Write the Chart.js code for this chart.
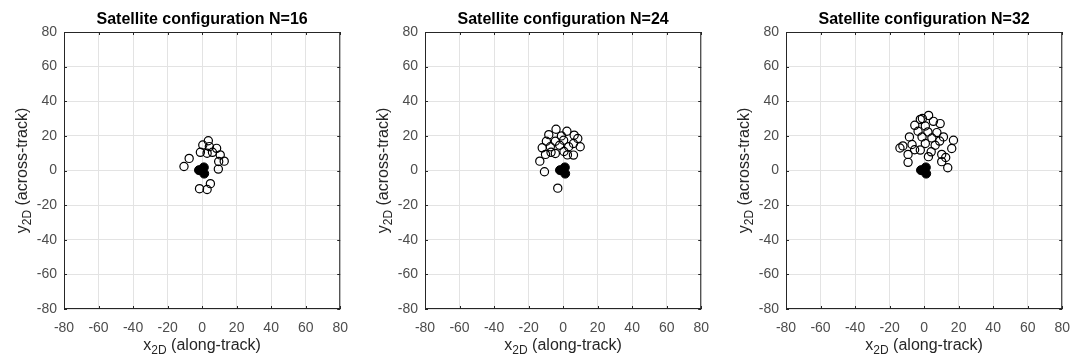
<!DOCTYPE html>
<html>
<head>
<meta charset="utf-8">
<script src="https://cdn.jsdelivr.net/npm/chart.js@4.4.1/dist/chart.umd.min.js"></script>
<style>
  body { margin: 0; background: #fff; }
  .wrap { position: absolute; top: 0; width: 359px; height: 361px; }
</style>
</head>
<body>
<div class="wrap" style="left:0px"><canvas id="c16"></canvas></div>
<div class="wrap" style="left:361px"><canvas id="c24"></canvas></div>
<div class="wrap" style="left:722px"><canvas id="c32"></canvas></div>
<script>
// axis ticks shared by all three panels
const axisTicks = [-80, -60, -40, -20, 0, 20, 40, 60, 80]

// reference satellites (filled) - same in every panel
const refX = [-1.8, 1.0, 1.2]
const refY = [0.2, 1.8, -1.8]

// N=16
const x16 = [3.6, 0.4, 4.2, 8.4, -1.0, 2.9, 6.0, 10.5, 12.8, 9.6, 9.4, -7.5, -10.5, -1.5, 2.9, 4.8]
const y16 = [17.2, 14.7, 13.8, 12.8, 10.5, 10.0, 10.5, 9.0, 5.4, 5.2, 0.8, 7.0, 2.3, -10.5, -11.0, -7.6]

// N=24
const x24 = [-4.1, 2.2, -8.3, 6.4, -1.0, -9.7, -4.5, 0.3, 6.0, 9.9, -12.1, -7.4, -2.0, 3.2, -10.2, -4.5, 0.5, 6.0, -13.5, -10.8, -3.1, 2.5, -7.0, 8.5]
const y24 = [23.8, 22.7, 20.7, 20.4, 20.0, 16.9, 16.9, 17.5, 15.6, 13.7, 13.1, 13.7, 14.6, 13.7, 9.3, 9.8, 11.0, 8.9, 5.4, -0.7, -10.2, 9.0, 10.5, 18.5]

// N=32
const x32 = [2.6, -2.2, 5.4, -5.4, 0.7, 9.3, -3.5, 2.2, 7.4, -8.5, -1.2, 4.5, 11.2, -12.3, -7.0, 0.7, 6.4, -9.3, -2.2, 4.1, 10.2, -9.3, 10.2, 17.0, 16.0, 13.7, 12.5, -5.5, 2.5, -14.0, 9.0, -1.0]
const y32 = [31.8, 29.5, 28.4, 26.1, 25.7, 27.1, 22.7, 22.3, 21.9, 19.4, 19.4, 18.8, 19.4, 14.2, 15.0, 15.6, 14.6, 9.3, 11.8, 10.8, 9.3, 4.7, 5.1, 17.5, 12.7, 1.6, 7.5, 12.0, 8.0, 13.0, 17.0, 30.0]

const FONT = '"Liberation Sans", Arial, sans-serif'
const toPts = (xs, ys) => xs.map((x, i) => ({ x: x, y: ys[i] }))

const matlabText = {
  id: 'matlabText',
  afterDraw(chart, args, opts) {
    const ctx = chart.ctx
    const a = chart.chartArea
    const cx = (a.left + a.right) / 2
    const cy = (a.top + a.bottom) / 2
    ctx.save()
    // box + inward tick marks
    ctx.strokeStyle = '#262626'
    ctx.lineWidth = 1
    ctx.strokeRect(a.left + 0.5, a.top + 0.5, a.right - a.left - 1, a.bottom - a.top - 1)
    ctx.beginPath()
    axisTicks.forEach(v => {
      const px = Math.round(chart.scales.x.getPixelForValue(v)) + 0.5
      const py = Math.round(chart.scales.y.getPixelForValue(v)) + 0.5
      ctx.moveTo(px, a.top); ctx.lineTo(px, a.top + 3)
      ctx.moveTo(px, a.bottom); ctx.lineTo(px, a.bottom - 3)
      ctx.moveTo(a.left, py); ctx.lineTo(a.left + 3, py)
      ctx.moveTo(a.right, py); ctx.lineTo(a.right - 3, py)
    })
    ctx.stroke()
    // title
    ctx.fillStyle = '#000'
    ctx.font = 'bold 16px ' + FONT
    ctx.textAlign = 'center'
    ctx.textBaseline = 'alphabetic'
    ctx.fillText(opts.title, cx, 24)
    // axis labels with subscript
    const label = (main, sub, rest, x, y) => {
      ctx.fillStyle = '#262626'
      ctx.font = '16px ' + FONT
      const w1 = ctx.measureText(main).width
      const w3 = ctx.measureText(rest).width
      ctx.font = '12px ' + FONT
      const w2 = ctx.measureText(sub).width
      let s = x - (w1 + w2 + w3) / 2
      ctx.textAlign = 'left'
      ctx.font = '16px ' + FONT
      ctx.fillText(main, s, y)
      ctx.font = '12px ' + FONT
      ctx.fillText(sub, s + w1, y + 4)
      ctx.font = '16px ' + FONT
      ctx.fillText(rest, s + w1 + w2, y)
    }
    label('x', '2D', ' (along-track)', cx, 350)
    ctx.translate(27, cy)
    ctx.rotate(-Math.PI / 2)
    label('y', '2D', ' (across-track)', 0, 0)
    ctx.restore()
  },
}

function makeChart(id, n, xs, ys) {
  const axis = (isX) => ({
    type: 'linear',
    min: -80,
    max: 80,
    afterBuildTicks: s => { s.ticks = axisTicks.map(v => ({ value: v })) },
    afterFit: s => { if (isX) s.height = 52; else s.width = 64 },
    grid: { color: '#e3e3e3', drawTicks: false },
    border: { display: false },
    ticks: {
      padding: isX ? 11 : 7,
      color: '#4d4d4d',
      font: { family: FONT, size: 14 },
      maxRotation: 0,
    },
  })
  return new Chart(document.getElementById(id), {
    type: 'scatter',
    data: {
      datasets: [
        {
          data: toPts(xs, ys),
          pointRadius: 4.1,
          borderWidth: 1.2,
          borderColor: '#000',
          backgroundColor: 'rgba(0,0,0,0)',
        },
        {
          data: toPts(refX, refY),
          pointRadius: 4.5,
          borderWidth: 1,
          borderColor: '#000',
          backgroundColor: '#000',
        },
      ],
    },
    options: {
      responsive: true,
      maintainAspectRatio: false,
      animation: false,
      events: [],
      layout: { padding: { top: 32, right: 16, left: 0, bottom: 0 } },
      plugins: {
        legend: { display: false },
        tooltip: { enabled: false },
        matlabText: { title: 'Satellite configuration N=' + n },
      },
      scales: { x: axis(true), y: axis(false) },
    },
    plugins: [matlabText],
  })
}

makeChart('c16', 16, x16, y16)
makeChart('c24', 24, x24, y24)
makeChart('c32', 32, x32, y32)
</script>
</body>
</html>
